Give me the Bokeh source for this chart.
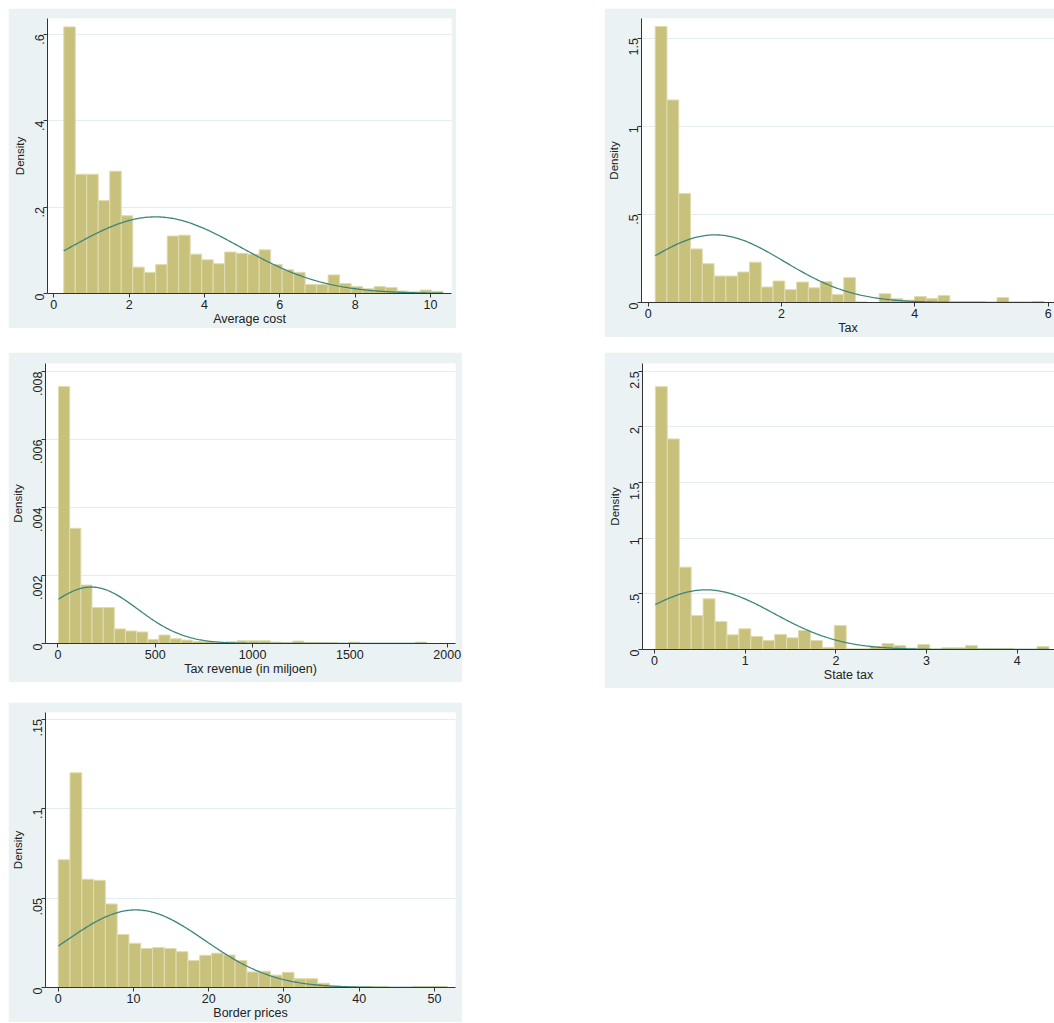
import math
import numpy as np
from bokeh.plotting import figure
from bokeh.models import FixedTicker, Spacer, ColumnDataSource
from bokeh.layouts import row, column
from bokeh.embed import file_html
from bokeh.resources import INLINE

# ---------------- data ----------------
# Panel 1: Average cost
avg_cost_bin_start = 0.265
avg_cost_bin_width = 0.3051
avg_cost_density = [0.617, 0.276, 0.276, 0.215, 0.283, 0.180, 0.061, 0.049, 0.067, 0.133,
                    0.135, 0.091, 0.078, 0.069, 0.096, 0.093, 0.091, 0.101, 0.067, 0.055,
                    0.049, 0.021, 0.021, 0.043, 0.023, 0.016, 0.011, 0.016, 0.014, 0.006,
                    0.004, 0.008, 0.005]
avg_cost_mean = 2.7
avg_cost_sd = 2.25
avg_cost_xticks = [0, 2, 4, 6, 8, 10]
avg_cost_yticks = [0, 0.2, 0.4, 0.6]
avg_cost_ylabels = ["0", ".2", ".4", ".6"]

# Panel 2: Tax
tax_bin_start = 0.105
tax_bin_width = 0.1768
tax_density = [1.566, 1.149, 0.619, 0.304, 0.220, 0.150, 0.150, 0.173, 0.229, 0.088,
               0.122, 0.073, 0.116, 0.083, 0.118, 0.045, 0.141, 0.004, 0.0, 0.050,
               0.022, 0.013, 0.034, 0.022, 0.040, 0.004, 0.004, 0.004, 0.0, 0.028,
               0.0, 0.0, 0.005]
tax_mean = 1.0
tax_sd = 1.04
tax_xticks = [0, 2, 4, 6]
tax_yticks = [0, 0.5, 1, 1.5]
tax_ylabels = ["0", ".5", "1", "1.5"]

# Panel 3: Tax revenue (in miljoen)
rev_bin_start = 3.4
rev_bin_width = 57.3
rev_density = [0.00756, 0.00339, 0.00172, 0.00106, 0.00106, 0.00043, 0.00037, 0.00034,
               0.00012, 0.00025, 0.00014, 0.00010, 0.00006, 0.00006, 0.00003, 0.00005,
               0.00008, 0.00008, 0.00008, 0.00004, 0.00003, 0.00007, 0.00003, 0.00003,
               0.00002, 0.0, 0.00004, 0.0, 0.0, 0.0, 0.0, 0.0, 0.00004]
rev_mean = 171.0
rev_sd = 240.0
rev_xticks = [0, 500, 1000, 1500, 2000]
rev_yticks = [0, 0.002, 0.004, 0.006, 0.008]
rev_ylabels = ["0", ".002", ".004", ".006", ".008"]

# Panel 4: State tax
state_bin_start = 0.01
state_bin_width = 0.1315
state_density = [2.362, 1.892, 0.740, 0.305, 0.455, 0.251, 0.132, 0.186, 0.117, 0.081,
                 0.135, 0.105, 0.171, 0.081, 0.018, 0.216, 0.006, 0.006, 0.027, 0.054,
                 0.036, 0.012, 0.045, 0.004, 0.015, 0.015, 0.036, 0.009, 0.009, 0.009,
                 0.0, 0.0, 0.027]
state_mean = 0.57
state_sd = 0.744
state_xticks = [0, 1, 2, 3, 4]
state_yticks = [0, 0.5, 1, 1.5, 2, 2.5]
state_ylabels = ["0", ".5", "1", "1.5", "2", "2.5"]

# Panel 5: Border prices
border_bin_start = 0.0
border_bin_width = 1.567
border_density = [0.0714, 0.120, 0.0605, 0.0599, 0.0467, 0.0296, 0.0247, 0.0218, 0.0223,
                  0.0218, 0.0200, 0.0151, 0.0180, 0.0192, 0.0182, 0.0151, 0.0087, 0.0091,
                  0.0069, 0.0085, 0.0049, 0.0049, 0.0024, 0.0009, 0.0005, 0.0005, 0.0005,
                  0.0005, 0.0, 0.0, 0.0005, 0.0005, 0.0005]
border_mean = 10.3
border_sd = 9.2
border_xticks = [0, 10, 20, 30, 40, 50]
border_yticks = [0, 0.05, 0.1, 0.15]
border_ylabels = ["0", ".05", ".1", ".15"]

# ---------------- style ----------------
OUTER = "#EAF2F3"
BAR = "#C8C17B"
BAR_EDGE = "#E0DCB0"
CURVE = "#3C857B"
TEXT = "#222222"
FONT = "Liberation Sans"


def panel(xlabel, start, width, dens, mu, sd, xticks, yticks, ylabels,
          fig_w, fig_h, bl, br, bt, bb, xr, yr):
    p = figure(width=fig_w, height=fig_h, x_range=xr, y_range=yr,
               output_backend="svg", toolbar_location=None,
               min_border_left=bl, min_border_right=br,
               min_border_top=bt, min_border_bottom=bb)
    p.background_fill_color = "white"
    p.border_fill_color = OUTER
    p.outline_line_color = None

    n = len(dens)
    lefts = [start + i * width for i in range(n)]
    rights = [start + (i + 1) * width for i in range(n)]
    src = ColumnDataSource(dict(left=lefts, right=rights, top=dens, bottom=[0] * n))
    p.quad(left="left", right="right", top="top", bottom="bottom", source=src,
           fill_color=BAR, line_color=BAR_EDGE, line_width=1)

    xs = np.linspace(start, start + n * width, 300)
    ys = np.exp(-0.5 * ((xs - mu) / sd) ** 2) / (sd * math.sqrt(2 * math.pi))
    p.line(xs, ys, line_color=CURVE, line_width=1.3)

    p.xgrid.visible = False
    p.ygrid.grid_line_color = "#E3EDEF"
    p.ygrid.grid_line_width = 1
    p.ygrid.ticker = FixedTicker(ticks=yticks)

    p.xaxis.ticker = FixedTicker(ticks=xticks)
    p.yaxis.ticker = FixedTicker(ticks=yticks)
    p.yaxis.major_label_overrides = {t: l for t, l in zip(yticks, ylabels)}
    p.xaxis.major_label_overrides = {t: str(t) for t in xticks}
    p.yaxis.major_label_orientation = math.pi / 2

    p.xaxis.axis_label = xlabel
    p.yaxis.axis_label = "Density"
    for ax in (p.xaxis[0], p.yaxis[0]):
        ax.axis_line_color = "#333333"
        ax.axis_line_width = 1
        ax.major_tick_line_color = "#333333"
        ax.major_tick_out = 4
        ax.major_tick_in = 0
        ax.minor_tick_line_color = None
        ax.major_label_text_font = FONT
        ax.major_label_text_font_size = "12.5px"
        ax.major_label_text_color = TEXT
        ax.axis_label_text_font = FONT
        ax.axis_label_text_font_style = "normal"
        ax.axis_label_text_color = TEXT
    p.xaxis.axis_label_text_font_size = "12.5px"
    p.yaxis.axis_label_text_font_size = "11.5px"
    p.xaxis.major_label_standoff = 2
    p.xaxis.axis_label_standoff = 0
    p.yaxis.major_label_standoff = 4
    p.yaxis.axis_label_standoff = 2
    return p


p1 = panel("Average cost", avg_cost_bin_start, avg_cost_bin_width, avg_cost_density,
           avg_cost_mean, avg_cost_sd, avg_cost_xticks, avg_cost_yticks, avg_cost_ylabels,
           448, 320, 39, 5, 7, 34, (-0.167, 10.557), (0, 0.6364))
p2 = panel("Tax", tax_bin_start, tax_bin_width, tax_density,
           tax_mean, tax_sd, tax_xticks, tax_yticks, tax_ylabels,
           450, 329, 37, 0, 10, 33, (-0.1, 6.095), (0, 1.611))
p3 = panel("Tax revenue (in miljoen)", rev_bin_start, rev_bin_width, rev_density,
           rev_mean, rev_sd, rev_xticks, rev_yticks, rev_ylabels,
           454, 330, 36, 7, 9, 37, (-63.6, 2042.6), (0, 0.00824))
p4 = panel("State tax", state_bin_start, state_bin_width, state_density,
           state_mean, state_sd, state_xticks, state_yticks, state_ylabels,
           450, 336, 38, 0, 11, 39, (-0.132, 4.41), (0, 2.57))
p5 = panel("Border prices", border_bin_start, border_bin_width, border_density,
           border_mean, border_sd, border_xticks, border_yticks, border_ylabels,
           454, 320, 37, 7, 10, 31, (-1.69, 52.8), (0, 0.1537))

grid = column(
    Spacer(width=1, height=8),
    row(p1, Spacer(width=148, height=1), p2),
    Spacer(width=1, height=15),
    row(p3, Spacer(width=142, height=1), p4),
    Spacer(width=1, height=14),
    p5,
)
layout = row(Spacer(width=8, height=1), grid)

open("out.html", "w").write(file_html(layout, INLINE))
